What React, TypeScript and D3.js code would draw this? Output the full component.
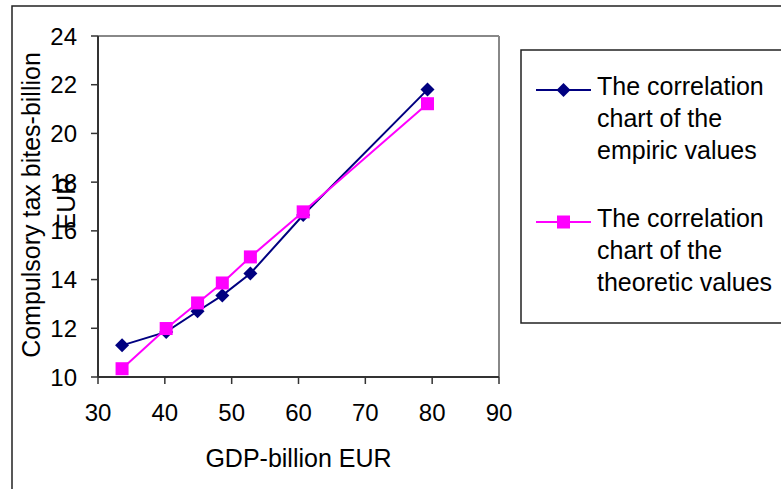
import React from "react";
import * as d3 from "d3";

// GDP (billion EUR) for each observation
const gdp = [33.6, 40.2, 44.9, 48.6, 52.8, 60.7, 79.3];
// Observed compulsory tax bites (billion EUR)
const empiric = [11.3, 11.85, 12.7, 13.35, 14.25, 16.65, 21.8];
// Regression-fitted tax bites (billion EUR)
const theoretic = [10.34, 11.99, 13.04, 13.86, 14.93, 16.78, 21.22];

const xTicks = [30, 40, 50, 60, 70, 80, 90];
const yTicks = [10, 12, 14, 16, 18, 20, 22, 24];

const seriesNames = [
  ["The correlation", "chart of the", "empiric values"],
  ["The correlation", "chart of the", "theoretic values"],
];

const W = 781;
const H = 489;
const plot = { left: 98, right: 499, top: 36, bottom: 377 };
const FONT = "'Liberation Sans', Arial, sans-serif";
const NAVY = "#000080";
const MAGENTA = "#FF00FF";

export default function App() {
  const x = d3.scaleLinear().domain([30, 90]).range([plot.left, plot.right]);
  const y = d3.scaleLinear().domain([10, 24]).range([plot.bottom, plot.top]);

  const line = d3
    .line<[number, number]>()
    .x((d) => x(d[0]))
    .y((d) => y(d[1]));

  const empPts: [number, number][] = gdp.map((g, i) => [g, empiric[i]]);
  const theoPts: [number, number][] = gdp.map((g, i) => [g, theoretic[i]]);

  const diamond = (cx: number, cy: number, r = 7) =>
    `M${cx},${cy - r}L${cx + r},${cy}L${cx},${cy + r}L${cx - r},${cy}Z`;

  const legendX0 = 536;
  const legendX1 = 591;
  const legendMid = (legendX0 + legendX1) / 2;
  const legendTextX = 597;
  const legendRows = [90, 222];

  return (
    <svg
      width={W}
      height={H}
      style={{ position: "absolute", left: 0, top: 0, background: "#fff" }}
      fontFamily={FONT}
    >
      {/* outer chart frame */}
      <rect x={12} y={6} width={W} height={H} fill="#fff" stroke="#222" strokeWidth={1.5} />

      {/* plot area frame */}
      <line x1={plot.left} y1={plot.top} x2={plot.right} y2={plot.top} stroke="#888" strokeWidth={2} />
      <line x1={plot.right} y1={plot.top} x2={plot.right} y2={plot.bottom} stroke="#888" strokeWidth={2} />

      {/* y axis */}
      <line x1={plot.left} y1={plot.top} x2={plot.left} y2={plot.bottom} stroke="#333" strokeWidth={2} />
      {yTicks.map((t) => (
        <g key={"y" + t}>
          <line x1={plot.left - 7} x2={plot.left} y1={y(t)} y2={y(t)} stroke="#333" strokeWidth={1.5} />
          <text x={77} y={y(t)} dy="0.36em" textAnchor="end" fontSize={24} fill="#000">
            {t}
          </text>
        </g>
      ))}

      {/* x axis */}
      <line x1={plot.left} y1={plot.bottom} x2={plot.right} y2={plot.bottom} stroke="#333" strokeWidth={2} />
      {xTicks.map((t) => (
        <g key={"x" + t}>
          <line x1={x(t)} x2={x(t)} y1={plot.bottom} y2={plot.bottom + 7} stroke="#333" strokeWidth={1.5} />
          <text x={x(t)} y={421} textAnchor="middle" fontSize={24} fill="#000">
            {t}
          </text>
        </g>
      ))}

      {/* axis titles */}
      <text x={(plot.left + plot.right) / 2} y={467} textAnchor="middle" fontSize={25} fill="#000">
        GDP-billion EUR
      </text>
      <text
        transform={`translate(40,205) rotate(-90)`}
        textAnchor="middle"
        fontSize={25}
        fill="#000"
      >
        Compulsory tax bites-billion
      </text>
      <text
        transform={`translate(75,203) rotate(-90)`}
        textAnchor="middle"
        fontSize={25}
        fill="#000"
      >
        EUR
      </text>

      {/* series lines */}
      <path d={line(empPts) ?? ""} fill="none" stroke={NAVY} strokeWidth={2} />
      <path d={line(theoPts) ?? ""} fill="none" stroke={MAGENTA} strokeWidth={2} />

      {/* markers */}
      {empPts.map((p, i) => (
        <path key={"e" + i} d={diamond(x(p[0]), y(p[1]))} fill={NAVY} />
      ))}
      {theoPts.map((p, i) => (
        <rect key={"t" + i} x={x(p[0]) - 6.5} y={y(p[1]) - 6.5} width={13} height={13} fill={MAGENTA} />
      ))}

      {/* legend */}
      <rect x={521} y={50} width={300} height={273} fill="#fff" stroke="#222" strokeWidth={1.5} />
      {seriesNames.map((lines, k) => {
        const ry = legendRows[k];
        const color = k === 0 ? NAVY : MAGENTA;
        return (
          <g key={"lg" + k}>
            <line x1={legendX0} x2={legendX1} y1={ry} y2={ry} stroke={color} strokeWidth={2} />
            {k === 0 ? (
              <path d={diamond(legendMid, ry)} fill={color} />
            ) : (
              <rect x={legendMid - 6.5} y={ry - 6.5} width={13} height={13} fill={color} />
            )}
            {lines.map((s, j) => (
              <text key={j} x={legendTextX} y={ry + 5 + j * 32} fontSize={25} fill="#000">
                {s}
              </text>
            ))}
          </g>
        );
      })}
    </svg>
  );
}
